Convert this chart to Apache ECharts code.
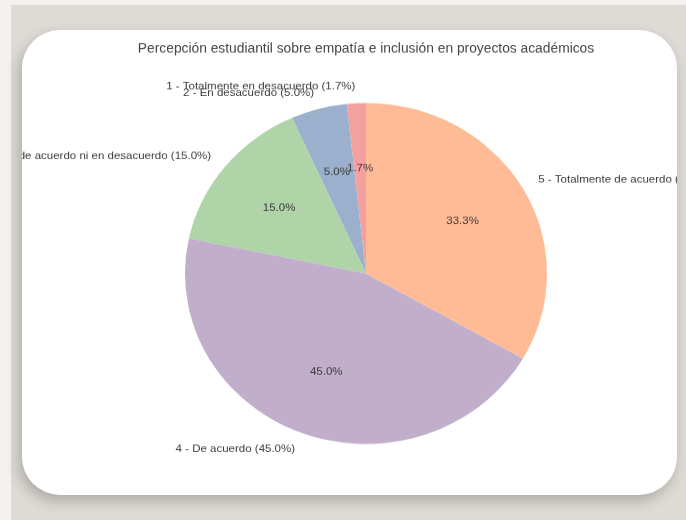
<!DOCTYPE html>
<html>
<head>
<meta charset="utf-8">
<script src="https://cdn.jsdelivr.net/npm/echarts@6/dist/echarts.min.js"></script>
<style>
  html, body { margin: 0; padding: 0; width: 686px; height: 520px; overflow: hidden; background: #f3f2f0; }
  #bg { position: absolute; left: 11px; top: 5px; width: 675px; height: 515px; background: #dedbd6; }
  #card { position: absolute; left: 22px; top: 30px; width: 655px; height: 465px; background: #ffffff;
          border-radius: 38px; overflow: hidden; box-shadow: -3px 6px 14px rgba(0,0,0,0.22); }
  #chart { position: absolute; left: -150px; top: 0; width: 988px; height: 494px;
           transform: scaleY(0.942); transform-origin: 0 0; }
</style>
</head>
<body>
<div id="bg"></div>
<div id="card"><div id="chart"></div></div>
<script>
const titleText = 'Percepción estudiantil sobre empatía e inclusión en proyectos académicos';
const categories = [
  '1 - Totalmente en desacuerdo',
  '2 - En desacuerdo',
  '3 - Ni de acuerdo ni en desacuerdo',
  '4 - De acuerdo',
  '5 - Totalmente de acuerdo'
];
const percentages = [1.7, 5.0, 15.0, 45.0, 33.3];
const colors = ['#f4a09f', '#9bb0cd', '#aed4a8', '#c0aecb', '#ffbb96'];

const chart = echarts.init(document.getElementById('chart'), null, { renderer: 'canvas' });
const R = 181;
const center = ['50%', 258.5];
const fontFamily = '"Liberation Sans", Arial, sans-serif';

const baseData = categories.map((c, i) => ({
  name: c, value: percentages[i], itemStyle: { color: colors[i] }
}));

chart.setOption({
  animation: false,
  title: {
    text: titleText, left: 'center', top: 8,
    textStyle: { fontFamily, fontSize: 13.8, fontWeight: 'normal', color: '#444' }
  },
  series: [
    {
      type: 'pie',
      center, radius: [0, R],
      startAngle: 90, clockwise: false,
      avoidLabelOverlap: false,
      minShowLabelAngle: 0,
      silent: true,
      data: baseData,
      label: {
        show: true, position: 'outside', alignTo: 'none', overflow: 'none',
        fontFamily, fontSize: 11.5, color: '#3a3a3a',
        formatter: p => p.name + ' (' + p.value.toFixed(1) + '%)'
      },
      labelLayout: { hideOverlap: false },
      labelLine: { show: false, length: 18, length2: -5 }
    },
    {
      type: 'pie',
      center, radius: [0, R * 1.2],
      startAngle: 90, clockwise: false,
      avoidLabelOverlap: false,
      minShowLabelAngle: 0,
      silent: true,
      data: categories.map((c, i) => ({ name: c, value: percentages[i], itemStyle: { color: 'rgba(0,0,0,0)' } })),
      label: {
        show: true, position: 'inside', overflow: 'none',
        fontFamily, fontSize: 11.5, color: '#3a3a3a',
        formatter: p => p.value.toFixed(1) + '%'
      },
      labelLayout: { hideOverlap: false },
      labelLine: { show: false }
    }
  ]
});
</script>
</body>
</html>
